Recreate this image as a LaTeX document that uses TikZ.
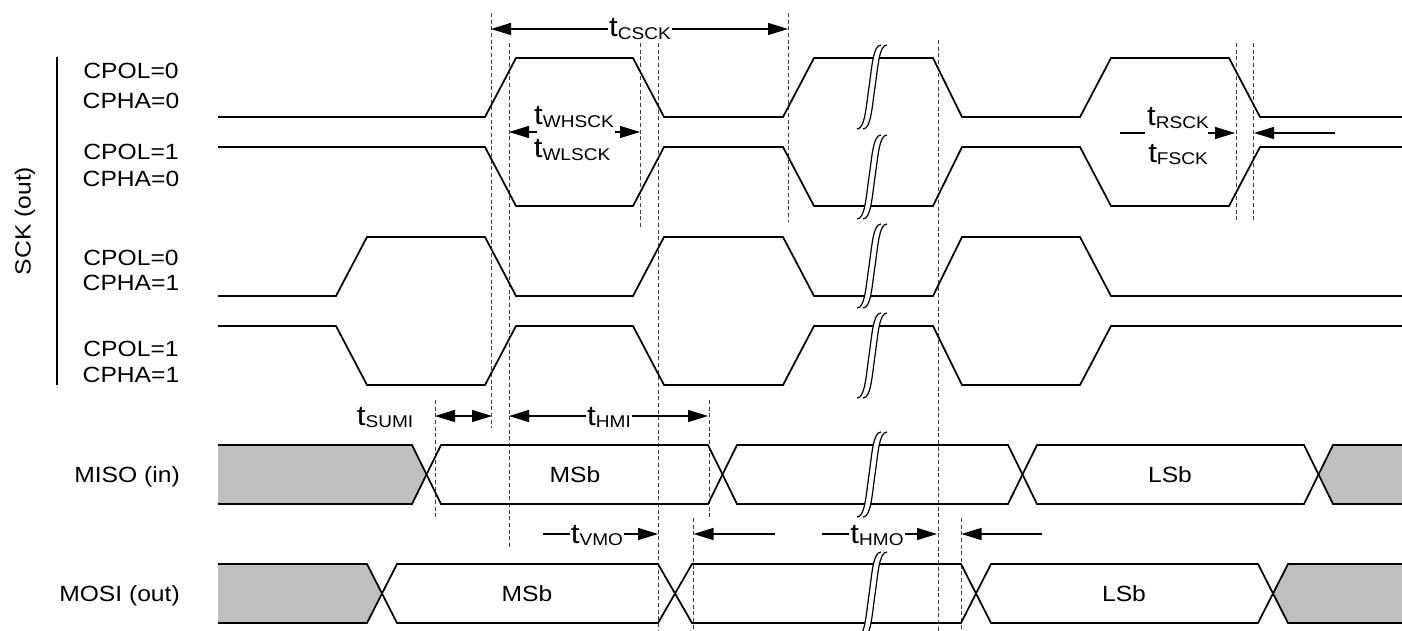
\documentclass[tikz,border=0pt]{standalone}
\usepackage{fontspec}
\setmainfont{Liberation Sans}[FakeStretch=1.12]
\usetikzlibrary{arrows.meta}
\newcommand{\tsig}[1]{{\fontsize{21}{21}\selectfont t}\raisebox{-2pt}{\fontsize{12.75}{12.75}\selectfont #1}}
\newcommand{\zzbrk}[2]{%
 \pgfmathsetmacro{\ym}{(#1+#2)/2}%
 \fill[white] (857,#2) .. controls (865,#2) and (866,#2-22) .. (869,\ym) .. controls (872,#1+22) and (873,#1) .. (881,#1) -- (887,#1) .. controls (879,#1) and (878,#1+22) .. (875,\ym) .. controls (872,#2-22) and (871,#2) .. (863,#2) -- cycle;
 \draw[brk] (857,#2) .. controls (865,#2) and (866,#2-22) .. (869,\ym) .. controls (872,#1+22) and (873,#1) .. (881,#1);
 \draw[brk] (863,#2) .. controls (871,#2) and (872,#2-22) .. (875,\ym) .. controls (878,#1+22) and (879,#1) .. (887,#1);
}
\begin{document}
\begin{tikzpicture}[x=0.75pt,y=-0.75pt,
  sig/.style={line width=1.3pt, line join=miter},
  brk/.style={line width=0.9pt},
  guide/.style={dash pattern=on 3pt off 2pt, line width=0.6pt, black!75},
  dim/.style={line width=1pt, -{Triangle[length=15pt,width=9pt]}},
  dimboth/.style={line width=1pt, {Triangle[length=15pt,width=9pt]}-{Triangle[length=15pt,width=9pt]}},
  lbl/.style={font=\fontsize{16.5}{16.5}\selectfont, inner sep=0pt},
  tlbl/.style={inner sep=1pt, fill=white},
  busfill/.style={fill=black!25},
]
\useasboundingbox (0,0) rectangle (1402,631);
\clip (0,0) rectangle (1402,631);

% guides
\draw[guide] (491,13) -- (491,428);
\draw[guide] (509,43) -- (509,548);
\draw[guide] (640,43) -- (640,228);
\draw[guide] (658,43) -- (658,631);
\draw[guide] (788,13) -- (788,222);
\draw[guide] (938,40) -- (938,631);
\draw[guide] (1236,43) -- (1236,222);
\draw[guide] (1253,43) -- (1253,222);
\draw[guide] (435,400) -- (435,518);
\draw[guide] (709,400) -- (709,518);
\draw[guide] (693.5,518) -- (693.5,631);
\draw[guide] (961.5,518) -- (961.5,631);

% SCK rows
\draw[sig] (218,117) -- (485,117) -- (516,58) -- (633,58) -- (664,117) -- (783,117) -- (814,58) -- (933,58) -- (962,117) -- (1080,117) -- (1111,58) -- (1229,58) -- (1260,117) -- (1402,117);
\draw[sig] (218,147) -- (485,147) -- (516,206) -- (633,206) -- (664,147) -- (783,147) -- (814,206) -- (933,206) -- (962,147) -- (1080,147) -- (1111,206) -- (1229,206) -- (1260,147) -- (1402,147);
\draw[sig] (218,296) -- (336,296) -- (367,237) -- (485,237) -- (516,296) -- (633,296) -- (664,237) -- (783,237) -- (814,296) -- (933,296) -- (962,237) -- (1080,237) -- (1111,296) -- (1402,296);
\draw[sig] (218,326) -- (336,326) -- (367,385) -- (485,385) -- (516,326) -- (633,326) -- (664,385) -- (783,385) -- (814,326) -- (933,326) -- (962,385) -- (1080,385) -- (1111,326) -- (1402,326);

% MISO bus
\fill[busfill] (218,445) -- (412,445) -- (426.5,474.5) -- (412,504) -- (218,504) -- cycle;
\fill[busfill] (1402,445) -- (1333,445) -- (1318.5,474.5) -- (1333,504) -- (1402,504) -- cycle;
\draw[sig] (218,445) -- (412,445) -- (441,504) -- (708,504) -- (737,445) -- (1008,445) -- (1037,504) -- (1304,504) -- (1333,445) -- (1402,445);
\draw[sig] (218,504) -- (412,504) -- (441,445) -- (708,445) -- (737,504) -- (1008,504) -- (1037,445) -- (1304,445) -- (1333,504) -- (1402,504);

% MOSI bus
\fill[busfill] (218,564) -- (367,564) -- (382,593.5) -- (367,623) -- (218,623) -- cycle;
\fill[busfill] (1402,564) -- (1288,564) -- (1273,593.5) -- (1288,623) -- (1402,623) -- cycle;
\draw[sig] (218,564) -- (367,564) -- (397,623) -- (658,623) -- (692,564) -- (961,564) -- (991,623) -- (1258,623) -- (1288,564) -- (1402,564);
\draw[sig] (218,623) -- (367,623) -- (397,564) -- (658,564) -- (692,623) -- (961,623) -- (991,564) -- (1258,564) -- (1288,623) -- (1402,623);

% breaks
\zzbrk{45}{129}
\zzbrk{135}{219}
\zzbrk{224}{308}
\zzbrk{313}{398}
\zzbrk{432}{517}
\zzbrk{552}{637}

% timing annotations
\draw[dimboth] (491,29) -- (788,29);
\node[tlbl, anchor=base] (tcsck) at (640,37) {\tsig{CSCK}};

\draw[dim] (537,132) -- (509,132);
\draw[dim] (615,132) -- (640,132);
\node[inner sep=0pt, anchor=base] (twh) at (574,125) {\tsig{WHSCK}};
\node[inner sep=0pt, anchor=base] (twl) at (572,158) {\tsig{WLSCK}};

\draw[line width=1pt] (1120,133) -- (1145,133);
\draw[dim] (1208,133) -- (1235,133);
\draw[dim] (1335,133) -- (1254,133);
\node[inner sep=0pt, anchor=base] (tr) at (1178,126) {\tsig{RSCK}};
\node[inner sep=0pt, anchor=base] (tf) at (1178,162) {\tsig{FSCK}};

\draw[dimboth] (435,416) -- (492,416);
\node[inner sep=0pt, anchor=base] (tsu) at (385,425) {\tsig{SUMI}};
\draw[dimboth] (509,416) -- (708,416);
\node[tlbl, anchor=base] (thmi) at (609,425) {\tsig{HMI}};

\draw[dim] (543,534) -- (658,534);
\node[tlbl, anchor=base] (tvmo) at (597,543) {\tsig{VMO}};
\draw[dim] (775,534) -- (693.5,534);
\draw[dim] (822,534) -- (937,534);
\node[tlbl, anchor=base] (thmo) at (877,543) {\tsig{HMO}};
\draw[dim] (1042,534) -- (961.5,534);

% bus texts
\node[lbl] (misomsb) at (575,474.5) {MSb};
\node[lbl] (misolsb) at (1170,474.5) {LSb};
\node[lbl] (mosimsb) at (527,593.5) {MSb};
\node[lbl] (mosilsb) at (1124,593.5) {LSb};

% left labels
\node[lbl, anchor=base] (l1a) at (131,79) {CPOL=0};
\node[lbl, anchor=base] (l1b) at (131,109) {CPHA=0};
\node[lbl, anchor=base] (l2a) at (131,160) {CPOL=1};
\node[lbl, anchor=base] (l2b) at (131,186) {CPHA=0};
\node[lbl, anchor=base] (l3a) at (131,265) {CPOL=0};
\node[lbl, anchor=base] (l3b) at (131,290) {CPHA=1};
\node[lbl, anchor=base] (l4a) at (131,356) {CPOL=1};
\node[lbl, anchor=base] (l4b) at (131,382) {CPHA=1};
\draw[line width=1.5pt] (57,57) -- (57,385);
\node[lbl, rotate=90] (sck) at (25,221) {SCK (out)};
\node[lbl, anchor=base east] (miso) at (180,482) {MISO (in)};
\node[lbl, anchor=base east] (mosi) at (180,601) {MOSI (out)};
\end{tikzpicture}
\end{document}
